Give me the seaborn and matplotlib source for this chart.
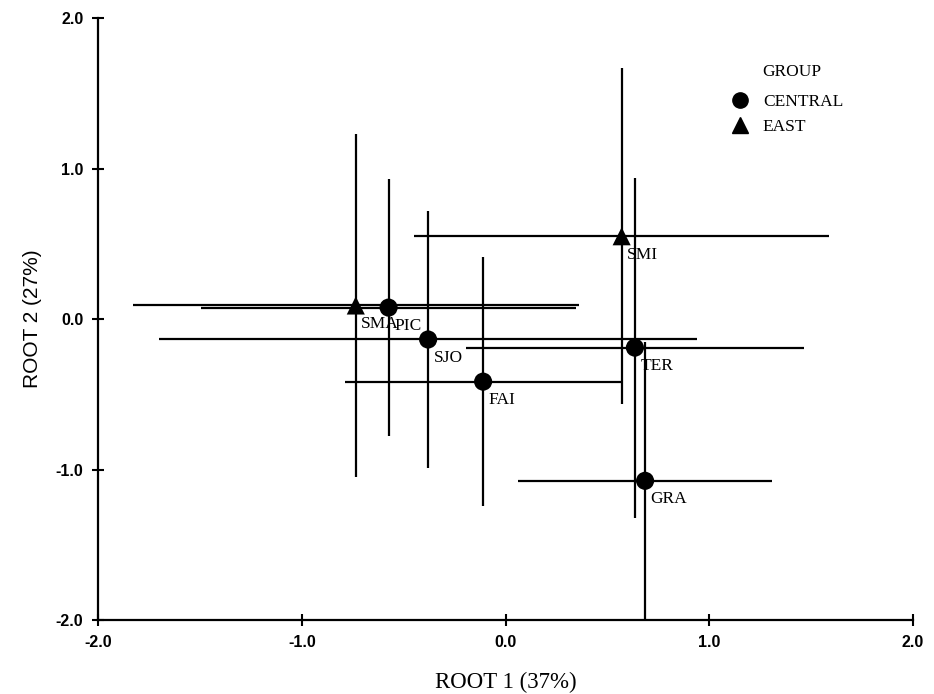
import numpy as np
import pandas as pd
import matplotlib
matplotlib.use("Agg")
import matplotlib.pyplot as plt
from matplotlib.lines import Line2D
import seaborn as sns

# -------------------------
# Data (group centroids with error bars)
# -------------------------
sites = ["SMA", "PIC", "SJO", "FAI", "TER", "SMI", "GRA"]
groups = ["EAST", "CENTRAL", "CENTRAL", "CENTRAL", "CENTRAL", "EAST", "CENTRAL"]
root1 = [-0.735, -0.574, -0.38, -0.11, 0.635, 0.57, 0.685]
root2 = [0.09, 0.076, -0.136, -0.416, -0.19, 0.55, -1.075]
root1_err = [1.095, 0.92, 1.32, 0.68, 0.83, 1.02, 0.625]
root2_err = [1.14, 0.855, 0.854, 0.826, 1.13, 1.117, 0.92]

ticks = [-2.0, -1.0, 0.0, 1.0, 2.0]
tick_labels = ["-2.0", "-1.0", "0.0", "1.0", "2.0"]

df = pd.DataFrame({
    "site": sites,
    "group": groups,
    "root1": root1,
    "root2": root2,
    "err1": root1_err,
    "err2": root2_err,
})

sns.set_style("ticks")
plt.rcParams.update({
    "text.color": "black",
    "axes.labelcolor": "black",
    "axes.edgecolor": "black",
    "xtick.color": "black",
    "ytick.color": "black",
})
serif = "Liberation Serif"
sans = "Liberation Sans"

fig = plt.figure(figsize=(9.34, 6.94), dpi=100)
ax = fig.add_axes([0.105, 0.1066, 0.8725, 0.8674])

# error bars
ax.errorbar(
    df["root1"], df["root2"],
    xerr=df["err1"], yerr=df["err2"],
    fmt="none", ecolor="black", elinewidth=1.6, capsize=0, zorder=2,
)

# markers
sns.scatterplot(
    data=df, x="root1", y="root2",
    style="group", markers={"CENTRAL": "o", "EAST": "^"},
    color="black", s=170, edgecolor="black", linewidth=0,
    legend=False, ax=ax, zorder=3,
)

# site labels
for _, row in df.iterrows():
    ax.annotate(
        row["site"], (row["root1"], row["root2"]),
        xytext=(4, -19), textcoords="offset points",
        fontsize=12.5, family=serif, ha="left", va="bottom",
    )

# axes
ax.set_xlim(-2.0, 2.0)
ax.set_ylim(-2.0, 2.0)
ax.set_xticks(ticks)
ax.set_yticks(ticks)
ax.set_xticklabels(tick_labels, family=sans, fontweight="bold", fontsize=11.5)
ax.set_yticklabels(tick_labels, family=sans, fontweight="bold", fontsize=11.5)
ax.tick_params(direction="inout", length=9, width=1.5, pad=6)
for side in ["top", "right"]:
    ax.spines[side].set_visible(False)
for side in ["left", "bottom"]:
    ax.spines[side].set_linewidth(1.6)

ax.set_xlabel("ROOT 1 (37%)", family=serif, fontsize=16.5, labelpad=16)
ax.set_ylabel("ROOT 2 (27%)", family=sans, fontsize=15, labelpad=10)

# legend
handles = [
    Line2D([], [], marker="o", color="black", linestyle="none", markersize=11),
    Line2D([], [], marker="^", color="black", linestyle="none", markersize=11),
]
leg = ax.legend(
    handles, ["CENTRAL", "EAST"],
    loc="upper left", bbox_to_anchor=(0.756, 0.888),
    frameon=False, prop={"family": serif, "size": 12.5},
    handletextpad=0.3, labelspacing=0.5, borderpad=0,
)
ax.text(0.815, 0.910, "GROUP", transform=ax.transAxes,
        family=serif, fontsize=12.5, ha="left", va="center")

plt.savefig("out.png", dpi=100)
plt.close()
